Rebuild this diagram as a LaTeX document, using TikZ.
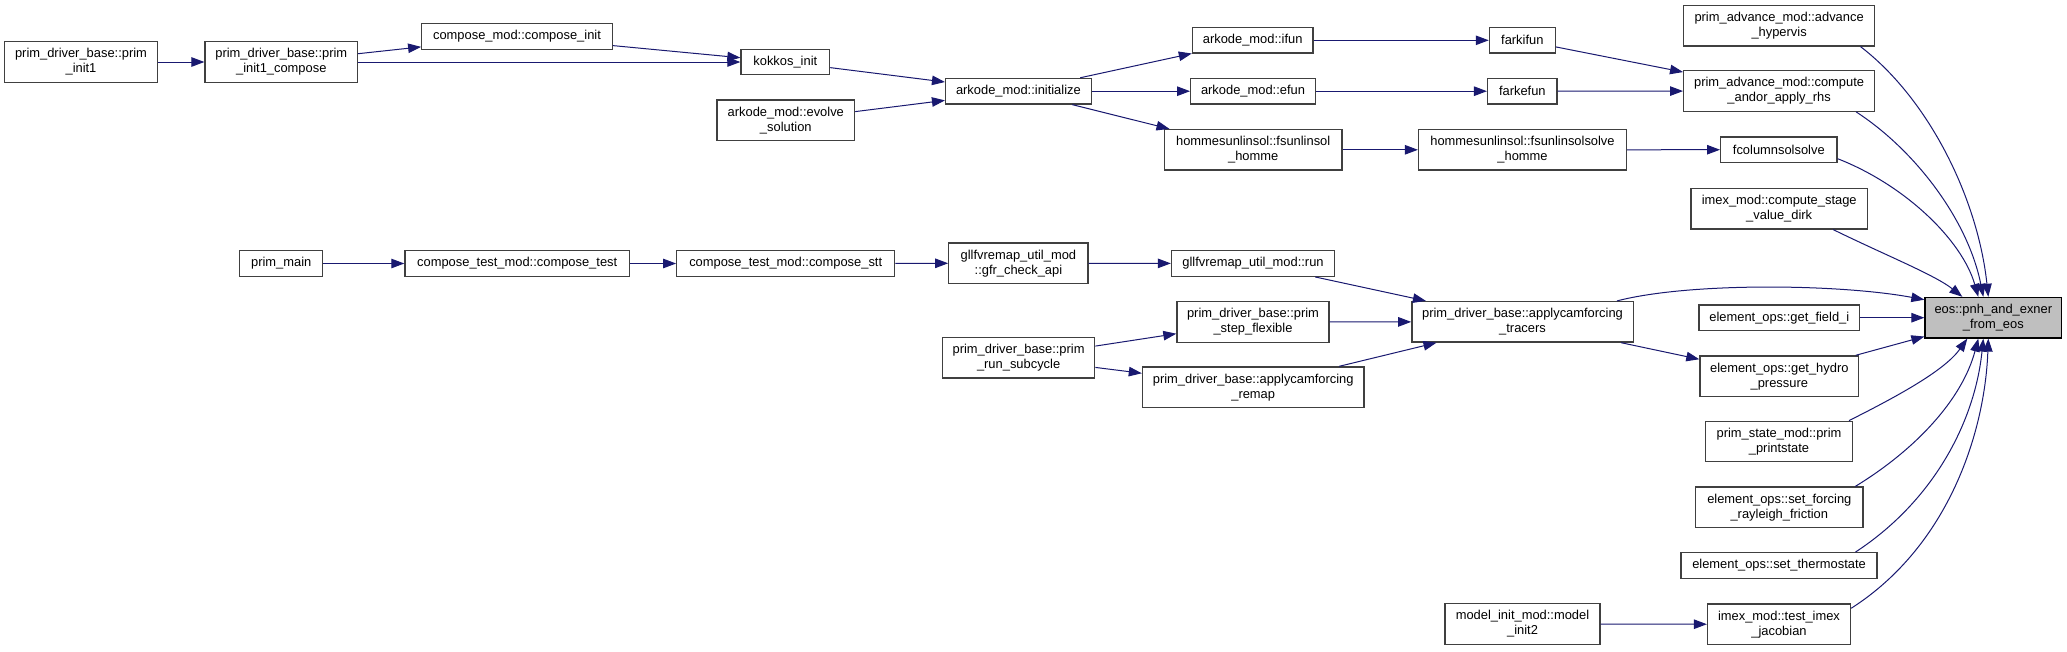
\documentclass[tikz,border=0pt]{standalone}
\usepackage{fontspec}
\setmainfont{Liberation Sans}
\usetikzlibrary{arrows.meta}
\definecolor{edgeblue}{HTML}{191970}
\definecolor{boxborder}{HTML}{404040}
\definecolor{hilite}{HTML}{BFBFBF}
\tikzset{
  fn/.style={draw=boxborder, line width=1.3pt, fill=white, inner sep=0pt, align=center,
    font=\fontsize{12.9pt}{15pt}\selectfont},
  hl/.style={fn, draw=black, fill=hilite},
  call/.style={draw=edgeblue, line width=1pt, -{Triangle[length=13pt,width=9.5pt]}}
}
\begin{document}
\begin{tikzpicture}[x=1pt,y=-1pt]
\useasboundingbox (0,0) rectangle (2067,651);
\fill[white] (0,0) rectangle (2067,651);
% nodes
\node[fn,minimum width=153pt,minimum height=40.5pt] (pinit1) at (81,62) {prim\_driver\_base::prim\\\_init1};
\node[fn,minimum width=152.5pt,minimum height=40.5pt] (pcomp) at (281.3,62) {prim\_driver\_base::prim\\\_init1\_compose};
\node[fn,minimum width=190.5pt,minimum height=25.6pt] (cinit) at (517,36.5) {compose\_mod::compose\_init};
\node[fn,minimum width=88.6pt,minimum height=25.6pt] (kokkos) at (785.3,62) {kokkos\_init};
\node[fn,minimum width=137.6pt,minimum height=40.5pt] (evolve) at (785.8,120.3) {arkode\_mod::evolve\\\_solution};
\node[fn,minimum width=145.6pt,minimum height=25.6pt] (ainit) at (1018.4,91.2) {arkode\_mod::initialize};
\node[fn,minimum width=120.5pt,minimum height=25.6pt] (ifun) at (1252.7,40.3) {arkode\_mod::ifun};
\node[fn,minimum width=124.6pt,minimum height=25.6pt] (efun) at (1253,91.2) {arkode\_mod::efun};
\node[fn,minimum width=177.6pt,minimum height=40.5pt] (fsun) at (1253.2,149.8) {hommesunlinsol::fsunlinsol\\\_homme};
\node[fn,minimum width=65.8pt,minimum height=25.6pt] (farki) at (1522.3,40.3) {farkifun};
\node[fn,minimum width=69.4pt,minimum height=25.6pt] (farke) at (1522.3,91.2) {farkefun};
\node[fn,minimum width=190.8pt,minimum height=40.5pt] (advhyp) at (1779.1,25.7) {prim\_advance\_mod::advance\\\_hypervis};
\node[fn,minimum width=190.8pt,minimum height=40.5pt] (rhs) at (1779.1,91) {prim\_advance\_mod::compute\\\_andor\_apply\_rhs};
\node[fn,minimum width=207.9pt,minimum height=40.5pt] (fsolve) at (1522.5,149.8) {hommesunlinsol::fsunlinsolsolve\\\_homme};
\node[fn,minimum width=116.3pt,minimum height=25.6pt] (fcol) at (1778.8,149.7) {fcolumnsolsolve};
\node[fn,minimum width=176.3pt,minimum height=40.5pt] (dirk) at (1779.2,208.7) {imex\_mod::compute\_stage\\\_value\_dirk};
\node[fn,minimum width=83pt,minimum height=25.6pt] (pmain) at (281.2,263.5) {prim\_main};
\node[fn,minimum width=224.5pt,minimum height=25.6pt] (ctest) at (517.2,263.5) {compose\_test\_mod::compose\_test};
\node[fn,minimum width=217.9pt,minimum height=25.6pt] (cstt) at (785.7,263.5) {compose\_test\_mod::compose\_stt};
\node[fn,minimum width=139.2pt,minimum height=40.5pt] (gfr) at (1018.4,263.2) {gllfvremap\_util\_mod\\::gfr\_check\_api};
\node[fn,minimum width=163pt,minimum height=25.6pt] (run) at (1253,263.5) {gllfvremap\_util\_mod::run};
\node[fn,minimum width=152.1pt,minimum height=40.5pt] (pstep) at (1253,322) {prim\_driver\_base::prim\\\_step\_flexible};
\node[fn,minimum width=152.2pt,minimum height=40.5pt] (psub) at (1018.6,357.8) {prim\_driver\_base::prim\\\_run\_subcycle};
\node[fn,minimum width=221.5pt,minimum height=40.5pt] (remap) at (1253.2,387.2) {prim\_driver\_base::applycamforcing\\\_remap};
\node[fn,minimum width=221.3pt,minimum height=40.5pt] (tracers) at (1522.5,321.8) {prim\_driver\_base::applycamforcing\\\_tracers};
\node[hl,minimum width=136.6pt,minimum height=40.5pt] (eos) at (1993.3,317.7) {eos::pnh\_and\_exner\\\_from\_eos};
\node[fn,minimum width=160.6pt,minimum height=25.6pt] (field) at (1779.3,317.7) {element\_ops::get\_field\_i};
\node[fn,minimum width=158.7pt,minimum height=40.5pt] (hydro) at (1779.3,376.2) {element\_ops::get\_hydro\\\_pressure};
\node[fn,minimum width=147pt,minimum height=40.5pt] (pstate) at (1779,441.5) {prim\_state\_mod::prim\\\_printstate};
\node[fn,minimum width=167.2pt,minimum height=40.5pt] (setf) at (1779.3,507.3) {element\_ops::set\_forcing\\\_rayleigh\_friction};
\node[fn,minimum width=196pt,minimum height=25.6pt] (setth) at (1779,565.5) {element\_ops::set\_thermostate};
\node[fn,minimum width=143pt,minimum height=40.5pt] (timex) at (1779,624.3) {imex\_mod::test\_imex\\\_jacobian};
\node[fn,minimum width=155pt,minimum height=40.5pt] (minit) at (1522.5,624) {model\_init\_mod::model\\\_init2};
% straight edges
\draw[call] (pinit1) -- (pcomp);
\draw[call] (pcomp) -- (cinit);
\draw[call] (pcomp) -- (kokkos);
\draw[call] (cinit) -- (kokkos);
\draw[call] (kokkos) -- (ainit);
\draw[call] (evolve) -- (ainit);
\draw[call] (ainit) -- (ifun);
\draw[call] (ainit) -- (efun);
\draw[call] (ainit) -- (fsun);
\draw[call] (ifun) -- (farki);
\draw[call] (efun) -- (farke);
\draw[call] (fsun) -- (fsolve);
\draw[call] (farki) -- (rhs);
\draw[call] (farke) -- (rhs);
\draw[call] (fsolve) -- (fcol);
\draw[call] (pmain) -- (ctest);
\draw[call] (ctest) -- (cstt);
\draw[call] (cstt) -- (gfr);
\draw[call] (gfr) -- (run);
\draw[call] (run) -- (tracers);
\draw[call] (pstep) -- (tracers);
\draw[call] (remap) -- (tracers);
\draw[call] (psub) -- (pstep);
\draw[call] (psub) -- (remap);
\draw[call] (tracers) -- (hydro);
\draw[call] (field) -- (eos);
\draw[call] (hydro) -- (eos);
\draw[call] (minit) -- (timex);
% curved edges into eos
\draw[call] ([xshift=94.5pt]tracers.north) .. controls (1690,282) and (1840,284) .. ([yshift=18pt]eos.west);
\draw[call] ([xshift=81.4pt]advhyp.south) .. controls (1930,100) and (1978,200) .. ([xshift=-5pt]eos.north);
\draw[call] ([xshift=77pt]rhs.south) .. controls (1915,150) and (1968,220) .. ([xshift=-10pt]eos.north);
\draw[call] ([yshift=-9pt]fcol.east) .. controls (1905,185) and (1962,240) .. ([xshift=-15pt]eos.north);
\draw[call] ([xshift=54pt]dirk.south) .. controls (1885,255) and (1935,275) .. ([xshift=-31pt]eos.north);
\draw[call] ([xshift=70pt]pstate.north) .. controls (1900,395) and (1945,370) .. ([xshift=-26pt]eos.south);
\draw[call] ([xshift=76pt]setf.north) .. controls (1915,450) and (1962,400) .. ([xshift=-15pt]eos.south);
\draw[call] ([xshift=76.5pt]setth.north) .. controls (1935,500) and (1975,420) .. ([xshift=-10pt]eos.south);
\draw[call] ([yshift=16pt]timex.east) .. controls (1950,545) and (1985,430) .. ([xshift=-5pt]eos.south);
\end{tikzpicture}
\end{document}
